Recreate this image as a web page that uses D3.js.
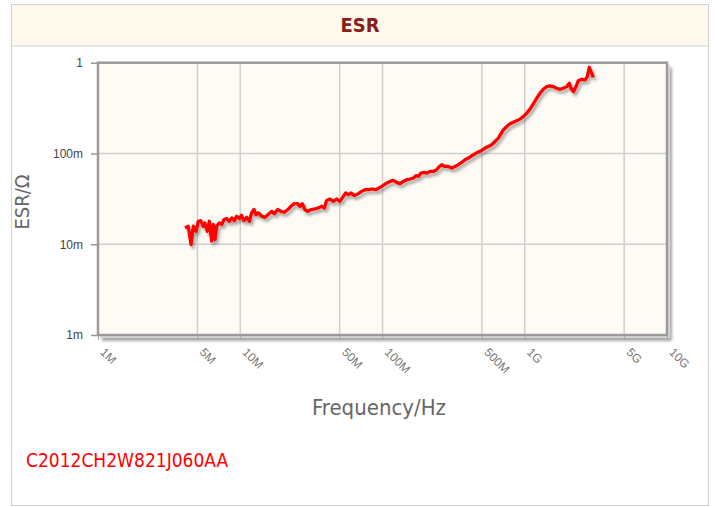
<!DOCTYPE html>
<html><head><meta charset="utf-8">
<script src="https://cdnjs.cloudflare.com/ajax/libs/d3/7.8.5/d3.min.js"></script>
<style>body{margin:0;background:#fff;font-family:"DejaVu Sans Condensed","DejaVu Sans",sans-serif;}</style>
</head><body><svg id="c" width="715" height="507"></svg>
<script>
// Frequency in MHz
const freqMHz = [4.09,4.31,4.51,4.68,4.89,5.07,5.27,5.50,5.65,5.87,6.06,6.30,6.46,6.64,6.83,7.12,7.41,7.69,8.03,8.38,8.71,9.08,9.44,9.85,10.2,10.6,11.1,11.6,12.0,12.5,12.9,13.4,14.2,14.9,15.7,16.6,17.4,18.3,19.3,20.4,21.6,22.7,24.0,25.3,26.3,27.3,28.5,29.8,31.4,33.6,35.4,37.4,39.0,40.5,42.7,45.1,47.6,50.2,53.0,55.1,57.5,60.1,63.4,67.6,71.4,75.3,80.4,84.8,89.6,94.5,98.7,103,107,113,119,126,133,140,148,156,165,172,179,186,196,205,216,228,240,251,261,275,290,307,323,341,360,380,401,424,447,472,498,526,554,586,618,652,707,747,788,854,926,977,1032,1089,1148,1213,1280,1350,1427,1505,1588,1677,1769,1866,1972,2057,2114,2195,2293,2380,2515,2652,2753,2843,2955,3033];
// ESR in milliohm
const esrMilliOhm = [15.1,15.8,9.92,15.8,13.9,17.9,18.2,15.8,17.2,13.9,17.9,10.8,16.5,11.3,15.8,17.2,16.5,18.7,19.2,17.9,19.5,18.2,20.3,19.2,20.8,18.2,19.8,17.9,22.1,24.1,21.2,22.1,20.3,19.8,21.2,23.0,21.7,24.1,23.0,22.5,24.1,26.2,28.0,28.0,26.2,28.0,24.1,23.0,24.1,24.5,25.1,26.2,25.1,30.4,31.5,29.7,31.5,29.7,33.7,36.7,35.2,36.7,34.3,36.1,38.2,39.9,39.9,40.6,39.9,41.7,43.4,45.3,47.3,49.2,50.5,48.0,46.5,49.2,51.4,52.3,53.7,56.9,55.9,60.9,61.8,60.9,63.4,63.4,66.2,71.9,75.1,71.9,71.9,69.1,71.9,75.1,79.6,85.2,89.0,94.3,99.2,103.6,107.9,114.6,119.4,124.7,135.5,147.7,182,198,212,225,239,255,278,308,352,406,461,510,545,555,545,523,510,523,545,594,523,480,545,634,657,646,702,890,765,691];
const xTickVals = [1,5,10,50,100,500,1000,5000,10000];
const xTickLabels = ["1M","5M","10M","50M","100M","500M","1G","5G","10G"];
const yTickVals = [1,10,100,1000];
const yTickLabels = ["1m","10m","100m","1"];
const title = "ESR";
const partName = "C2012CH2W821J060AA";

const svg = d3.select("#c");
const defs = svg.append("defs");
const f = defs.append("filter").attr("id","sh").attr("x","-10%").attr("y","-10%").attr("width","130%").attr("height","130%");
f.append("feGaussianBlur").attr("in","SourceAlpha").attr("stdDeviation",1.5).attr("result","b");
f.append("feOffset").attr("in","b").attr("dx",2).attr("dy",3).attr("result","o");
f.append("feComponentTransfer").attr("in","o").attr("result","o2").append("feFuncA").attr("type","linear").attr("slope",0.35);
const m = f.append("feMerge"); m.append("feMergeNode").attr("in","o2"); m.append("feMergeNode").attr("in","SourceGraphic");

// panel
svg.append("rect").attr("x",11.5).attr("y",4.5).attr("width",697).attr("height",501).attr("fill","#fff").attr("stroke","#d0d0d0");
svg.append("rect").attr("x",12).attr("y",5).attr("width",696).attr("height",41).attr("fill","#fef9ec");
svg.append("line").attr("x1",12).attr("x2",708).attr("y1",46).attr("y2",46).attr("stroke","#d0d0d0");
svg.append("text").attr("x",360).attr("y",32).attr("text-anchor","middle").attr("font-weight","bold").attr("font-size",20).attr("fill","#8b1c1c").text(title);

const L=98,R=667,T=62.7,B=335;
const x = d3.scaleLog().domain([1,10000]).range([L,R]);
const y = d3.scaleLog().domain([1,1000]).range([B,T]);

// plot frame shadow + bg
svg.append("rect").attr("x",L+2).attr("y",T+2).attr("width",R-L+1).attr("height",B-T+1).attr("fill","#d8d8d8").attr("filter","url(#sh)");
svg.append("rect").attr("x",L).attr("y",T).attr("width",R-L).attr("height",B-T).attr("fill","#fdfbf3");

// grid
svg.append("g").selectAll("line").data(xTickVals.slice(1,-1)).join("line")
  .attr("x1",d=>x(d)).attr("x2",d=>x(d)).attr("y1",T).attr("y2",B).attr("stroke","#cfcfcf").attr("stroke-width",1.5);
svg.append("g").selectAll("line").data(yTickVals.slice(1,-1)).join("line")
  .attr("y1",d=>y(d)).attr("y2",d=>y(d)).attr("x1",L).attr("x2",R).attr("stroke","#cfcfcf").attr("stroke-width",1.5);

// axes
const yAxis = d3.axisLeft(y).tickValues(yTickVals).tickFormat((d,i)=>yTickLabels[i]).tickSize(7).tickSizeOuter(0).tickPadding(8);
const gy = svg.append("g").attr("transform",`translate(${L},0)`).call(yAxis);
gy.select(".domain").remove();
gy.selectAll("line").attr("stroke","#999").attr("stroke-width",1.5);
gy.selectAll("text").attr("font-size",12).attr("fill","#444").attr("font-family","Liberation Sans, Arial, sans-serif");

const xAxis = d3.axisBottom(x).tickValues(xTickVals).tickFormat((d,i)=>xTickLabels[i]).tickSize(5).tickSizeOuter(0);
const gx = svg.append("g").attr("transform",`translate(0,${B})`).call(xAxis);
gx.select(".domain").remove();
gx.selectAll("line").attr("stroke","#aaa").attr("stroke-width",1);
gx.selectAll("text").attr("font-size",12).attr("fill","#777").attr("font-family","Liberation Sans, Arial, sans-serif")
  .attr("text-anchor","start").attr("y",0).attr("dy",0)
  .attr("transform","translate(1,18) rotate(45)");

// frame border
svg.append("rect").attr("x",L).attr("y",T).attr("width",R-L).attr("height",B-T).attr("fill","none").attr("stroke","#9a9a9a").attr("stroke-width",2.5);

// curve
const pts = freqMHz.map((fv,i)=>[fv,esrMilliOhm[i]]);
svg.append("path").datum(pts).attr("fill","none").attr("stroke","#ff0000").attr("stroke-width",3.3).attr("stroke-linejoin","round")
  .attr("filter","url(#sh)")
  .attr("d",d3.line().x(d=>x(d[0])).y(d=>y(d[1])));

// axis titles
svg.append("text").attr("x",379).attr("y",415).attr("text-anchor","middle").attr("font-size",22).attr("fill","#666").text("Frequency/Hz");
svg.append("text").attr("transform","translate(29,202) rotate(-90)").attr("text-anchor","middle").attr("font-size",20).attr("fill","#666").text("ESR/Ω");

svg.append("text").attr("x",26).attr("y",467).attr("font-size",19).attr("fill","#ff0000").text(partName);
</script></body></html>
